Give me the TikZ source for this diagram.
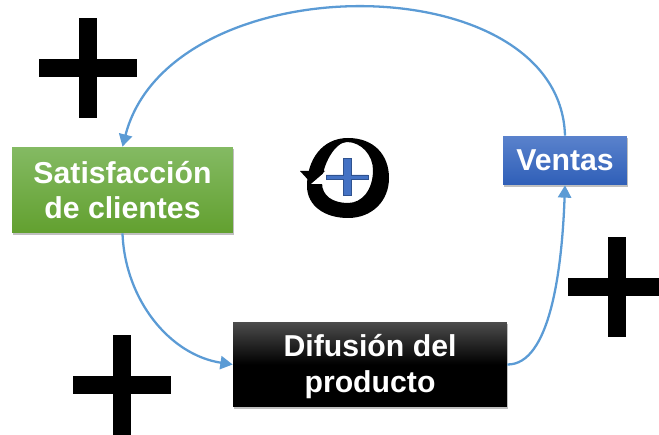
\documentclass[tikz,border=0pt]{standalone}
\usepackage{fontspec}
\setmainfont{Liberation Sans}
\usepackage{xcolor}
\usetikzlibrary{arrows.meta}
\usetikzlibrary{shadows}

\definecolor{linkblue}{HTML}{5B9BD5}
\definecolor{signblue}{HTML}{4472C4}
\definecolor{signedge}{HTML}{2F528F}
\definecolor{greentop}{RGB}{132,186,99}
\definecolor{greenend}{RGB}{98,160,47}
\definecolor{bluetop}{RGB}{90,130,204}
\definecolor{blueend}{RGB}{47,95,184}

\tikzset{
    box/.style={text=white, align=center, inner sep=0pt,
        font=\fontsize{17.2pt}{20.4pt}\selectfont\bfseries,
        drop shadow={shadow xshift=0.6pt, shadow yshift=-1.2pt, opacity=0.5}},
    link/.style={draw=linkblue, line width=1.3pt, -{Triangle[length=7pt,width=7.5pt]}},
    plusmark/.style={draw=black, line width=0.36cm}
}

\begin{document}
\begin{tikzpicture}[x=0.02cm,y=-0.02cm]
    \clip (0,0) rectangle (659,435);

    \foreach \k/\x/\y in {a/88/68,b/122/385,c/617/287}{
    \coordinate (plus\k) at (\x,\y);
    \draw[plusmark] ([xshift=-0.98cm]plus\k) -- ([xshift=0.98cm]plus\k);
    \draw[plusmark] ([yshift=-1cm]plus\k) -- ([yshift=1cm]plus\k);
    }

    \node[box, minimum width=4.42cm, minimum height=1.72cm, top color=greentop, bottom color=greenend] (sat) at (122.5,190) {Satisfacción\\de clientes};
    \node[box, minimum width=2.48cm, minimum height=0.98cm, top color=bluetop, bottom color=blueend] (ventas) at (565,160.5) {Ventas};
    \node[box, minimum width=5.48cm, minimum height=1.7cm, top color=black!70, bottom color=black, middle color=black] (difusion) at (370,364.5) {\rule{0pt}{15pt}Difusión del\\producto};

    \draw[link] (ventas.north) .. controls (560,-37) and (170,-37) .. (sat.north);
    \draw[link] (sat.south) .. controls (125,300) and (170,355) .. (difusion.west);
    \draw[link] (difusion.east) .. controls (550,365) and (562,270) .. (ventas.south);

    \fill[black, even odd rule] (307,186) .. controls (307,160) and (322,138) .. (348,138)
        .. controls (374,138) and (389,155) .. (389,178)
        .. controls (389,201) and (372,218) .. (348,218)
        .. controls (325,218) and (307,206) .. (307,186) -- cycle
        (322,183) .. controls (322,165) and (335,142) .. (347,142)
        .. controls (361,142) and (373,155) .. (373,170)
        .. controls (373,190) and (362,203) .. (348,203)
        .. controls (333,203) and (322,196) .. (322,183) -- cycle;
    \fill[white] (311,184) -- (325,172) -- (326,184) -- cycle;
    \fill[black] (300,171) -- (325,171) -- (311,183) -- cycle;

    \draw[fill=signblue, draw=signedge, line width=0.5pt] (343.5,158.5) -- (351.5,158.5) -- (351.5,175)
        -- (368,175) -- (368,179) -- (351.5,179) -- (351.5,195.5) -- (343.5,195.5)
        -- (343.5,179) -- (326,179) -- (326,175) -- (343.5,175) -- cycle;
\end{tikzpicture}
\end{document}
